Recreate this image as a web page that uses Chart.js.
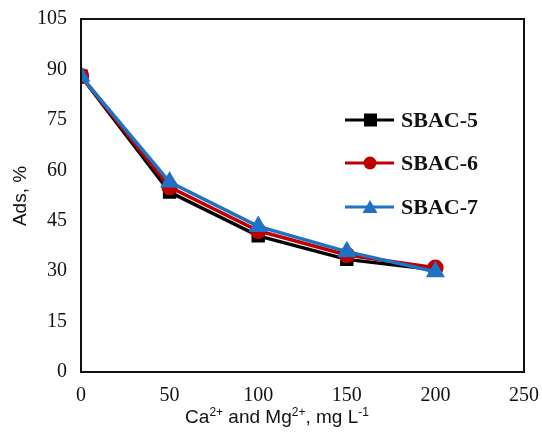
<!DOCTYPE html>
<html>
<head>
<meta charset="utf-8">
<script src="https://cdn.jsdelivr.net/npm/chart.js@4.4.0/dist/chart.umd.min.js"></script>
<style>
  html, body { margin: 0; padding: 0; background: #fff; }
  #wrap { width: 542px; height: 434px; position: relative; }
</style>
</head>
<body>
<div id="wrap"><canvas id="adsChart"></canvas></div>
<script>
// concentration of Ca2+ and Mg2+, mg/L
var conc = [0, 50, 100, 150, 200];
var sbac5 = [88, 53.5, 40.5, 33.5, 30.4];
var sbac6 = [88, 55, 42, 34.8, 31];
var sbac7 = [88, 56.5, 43.3, 35.8, 29.8];
var seriesNames = ["SBAC-5", "SBAC-6", "SBAC-7"];
var yTicks = [0, 15, 30, 45, 60, 75, 90, 105];
var xTicks = [0, 50, 100, 150, 200, 250];
// x title in pieces: [text, superscript?]
var xTitle = [["Ca", false], ["2+", true], [" and Mg", false], ["2+", true], [", mg L", false], ["-1", true]];
var yTitle = "Ads, %";

var serif = '"Liberation Serif", "Times New Roman", serif';
var sans = '"Liberation Sans", Arial, sans-serif';

function pts(vals) {
    return conc.map(function (c, i) { return {x: c, y: vals[i]}; });
}

var boxPlugin = {
    id: 'box',
    afterDatasetsDraw: function (chart) {
        var a = chart.chartArea, ctx = chart.ctx;
        ctx.save();
        ctx.strokeStyle = '#111';
        ctx.lineWidth = 2;
        ctx.strokeRect(a.left, a.top, a.right - a.left, a.bottom - a.top);
        ctx.restore();
    }
};

// axis titles, placed like in the original figure
var titlesPlugin = {
    id: 'titles',
    afterDraw: function (chart) {
        var ctx = chart.ctx;
        var big = '19px ' + sans, small = '12px ' + sans;
        ctx.save();
        ctx.fillStyle = '#111';
        ctx.textBaseline = 'alphabetic';
        ctx.textAlign = 'left';
        var total = 0;
        xTitle.forEach(function (p) {
            ctx.font = p[1] ? small : big;
            total += ctx.measureText(p[0]).width;
        });
        var x = 277 - total / 2, base = 423;
        xTitle.forEach(function (p) {
            ctx.font = p[1] ? small : big;
            ctx.fillText(p[0], x, p[1] ? base - 7 : base);
            x += ctx.measureText(p[0]).width;
        });
        ctx.textAlign = 'center';
        ctx.textBaseline = 'middle';
        ctx.translate(21, 196);
        ctx.rotate(-Math.PI / 2);
        ctx.font = '19px ' + sans;
        ctx.fillText(yTitle, 0, 0);
        ctx.restore();
    }
};

var legendPlugin = {
    id: 'sideLegend',
    afterDraw: function (chart) {
        var ctx = chart.ctx;
        var rows = [120, 163, 207];
        ctx.save();
        chart.data.datasets.forEach(function (ds, i) {
            var y = rows[i];
            ctx.strokeStyle = ds.borderColor;
            ctx.lineWidth = 3;
            ctx.beginPath();
            ctx.moveTo(345, y);
            ctx.lineTo(394, y);
            ctx.stroke();
            ctx.fillStyle = ds.backgroundColor;
            ctx.beginPath();
            if (ds.pointStyle === 'rect') {
                ctx.rect(364, y - 6.5, 13, 13);
            } else if (ds.pointStyle === 'circle') {
                ctx.arc(370, y, 6.5, 0, Math.PI * 2);
            } else {
                ctx.moveTo(370, y - 7);
                ctx.lineTo(377.5, y + 6);
                ctx.lineTo(362.5, y + 6);
                ctx.closePath();
            }
            ctx.fill();
            ctx.fillStyle = '#111';
            ctx.font = 'bold 22px ' + serif;
            ctx.textBaseline = 'middle';
            ctx.fillText(ds.label, 401, y + 1);
        });
        ctx.restore();
    }
};

new Chart(document.getElementById('adsChart'), {
    type: 'line',
    data: {
        datasets: [{
            label: seriesNames[0],
            data: pts(sbac5),
            borderColor: '#000000',
            backgroundColor: '#000000',
            pointStyle: 'rect',
            pointRadius: 7,
            borderWidth: 3.5,
            order: 3
        }, {
            label: seriesNames[1],
            data: pts(sbac6),
            borderColor: '#c00000',
            backgroundColor: '#c00000',
            pointStyle: 'circle',
            pointRadius: 6.5,
            borderWidth: 3.5,
            order: 2
        }, {
            label: seriesNames[2],
            data: pts(sbac7),
            borderColor: '#1f72c4',
            backgroundColor: '#1f72c4',
            pointStyle: 'triangle',
            pointRadius: 7.5,
            borderWidth: 3.5,
            order: 1
        }]
    },
    options: {
        responsive: true,
        maintainAspectRatio: false,
        animation: false,
        layout: { padding: { top: 19, right: 18, left: 0, bottom: 0 } },
        plugins: {
            legend: { display: false },
            tooltip: { enabled: false }
        },
        elements: { line: { tension: 0 }, point: { borderWidth: 0 } },
        scales: {
            x: {
                type: 'linear',
                min: 0, max: 250,
                afterBuildTicks: function (s) { s.ticks = xTicks.map(function (v) { return {value: v}; }); },
                grid: { display: false, drawTicks: false },
                border: { display: false },
                ticks: {
                    color: '#111', padding: 12, maxRotation: 0,
                    font: { family: serif, size: 20 }
                },
                afterFit: function (s) { s.height = 62; s.paddingRight = 0; s.paddingLeft = 0; }
            },
            y: {
                min: 0, max: 105,
                afterBuildTicks: function (s) { s.ticks = yTicks.map(function (v) { return {value: v}; }); },
                grid: { display: false, drawTicks: false },
                border: { display: false },
                ticks: {
                    color: '#111', padding: 14,
                    font: { family: serif, size: 20 }
                },
                afterFit: function (s) { s.width = 81; s.paddingTop = 0; s.paddingBottom = 0; }
            }
        }
    },
    plugins: [boxPlugin, titlesPlugin, legendPlugin]
});
</script>
</body>
</html>
